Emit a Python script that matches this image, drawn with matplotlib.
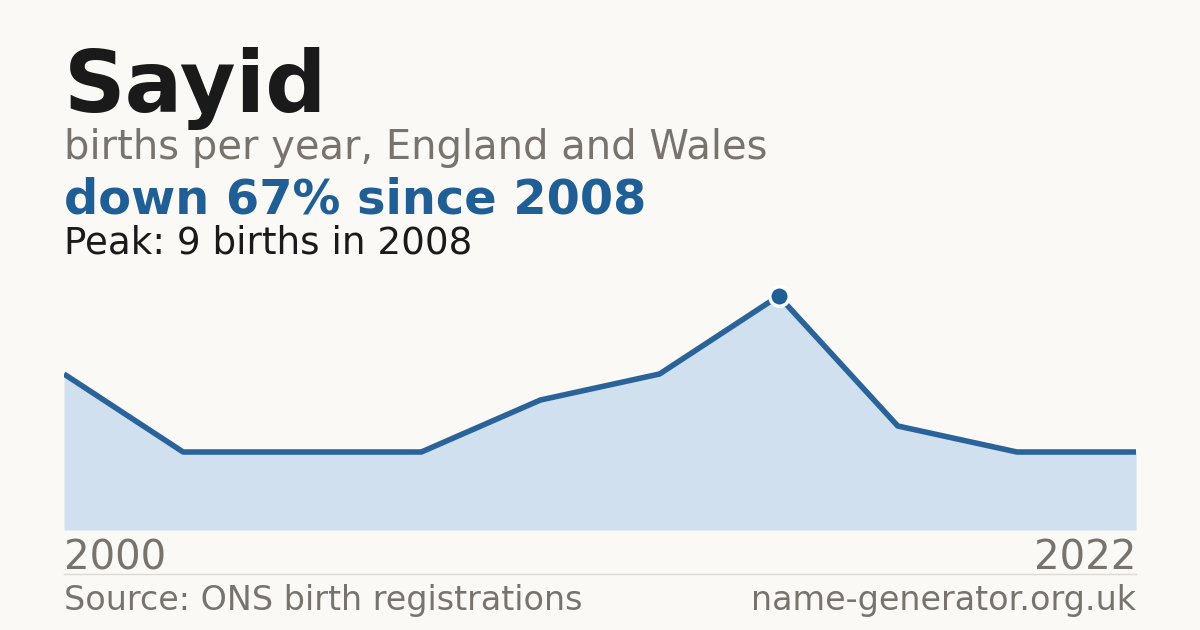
import matplotlib
matplotlib.use("Agg")
import matplotlib.pyplot as plt

# births per year (only years shown in the series)
years = [2000, 2001, 2002, 2004, 2005, 2007, 2008, 2010, 2015, 2022]
births = [6, 3, 3, 3, 5, 6, 9, 4, 3, 3]
name = "Sayid"
subtitle = "births per year, England and Wales"
headline = "down 67% since 2008"
peak_text = "Peak: 9 births in 2008"
source = "Source: ONS birth registrations"
site = "name-generator.org.uk"

bg = "#faf9f5"
blue = "#1f5f96"
line_col = "#2a6399"
fill_col = "#d0e0ef"
grey = "#78746d"
dark = "#1a1a1a"

W, H = 1200, 630
fig = plt.figure(figsize=(12, 6.3), dpi=100, facecolor=bg)

def px(x, y):
    return x / W, 1 - y / H

# chart area: x 64..1136, baseline y=530
ax = fig.add_axes([64 / W, 1 - 530 / H, (1136 - 64) / W, 260 / H])
ax.set_facecolor(bg)
idx = list(range(len(years)))
ax.fill_between(idx, births, 0, color=fill_col, lw=0)
ax.plot(idx, births, color=line_col, lw=4, solid_capstyle="butt")
pk = births.index(max(births))
ax.plot(idx[pk], births[pk], "o", ms=14, color=blue, mec="white", mew=2.5, zorder=5)
ax.set_xlim(0, len(years) - 1)
ax.set_ylim(0, 10)
ax.axis("off")

fig.text(*px(64, 112), name, fontsize=61.7, fontweight="bold", color=dark, va="baseline")
fig.text(*px(64, 159), subtitle, fontsize=28.8, color=grey, va="baseline")
fig.text(*px(64, 213), headline, fontsize=34.5, fontweight="bold", color=blue, va="baseline")
fig.text(*px(64, 253), peak_text, fontsize=26.8, color=dark, va="baseline")

fig.text(*px(64, 570), str(years[0]), fontsize=29, color=grey, va="baseline")
fig.text(*px(1136, 570), str(years[-1]), fontsize=29, color=grey, va="baseline", ha="right")
fig.add_artist(plt.Line2D([64 / W, 1136 / W], [1 - 574 / H] * 2, color="#dddad3", lw=1))
fig.text(*px(64, 610), source, fontsize=24, color=grey, va="baseline")
fig.text(*px(1136, 610), site, fontsize=24, color=grey, va="baseline", ha="right")

fig.savefig("out.png", dpi=100, facecolor=bg)
